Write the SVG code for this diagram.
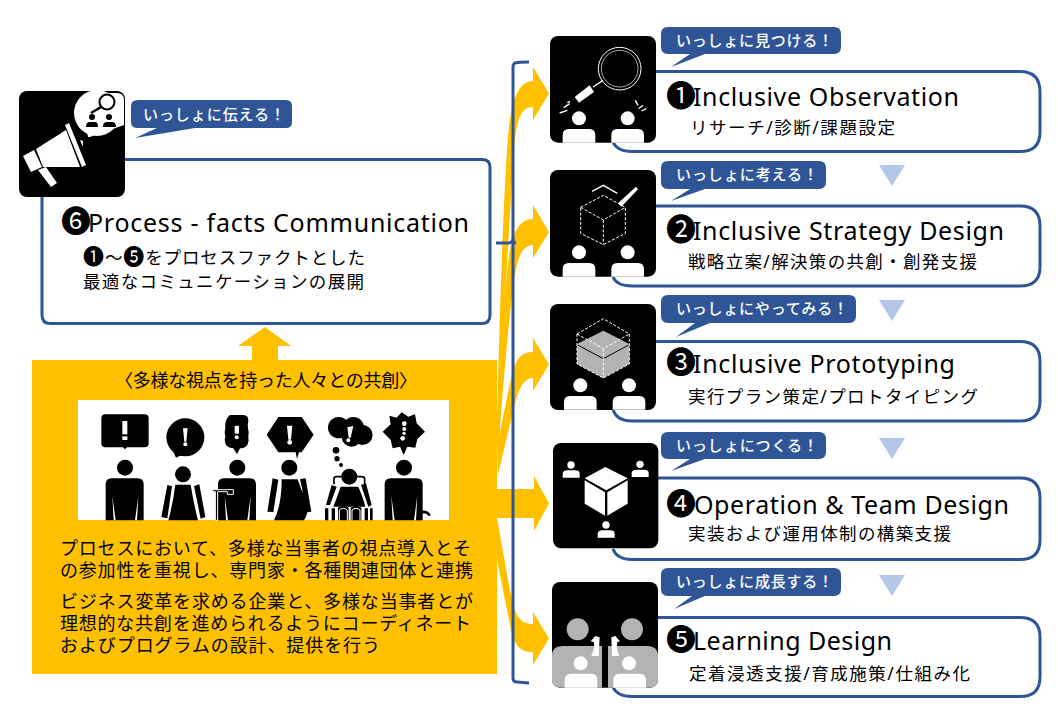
<svg xmlns="http://www.w3.org/2000/svg" xmlns:xlink="http://www.w3.org/1999/xlink" width="1058" height="720" viewBox="0 0 1058 720">
<style>
text{font-family:"Noto Sans","Noto Sans CJK JP","DejaVu Sans",sans-serif;fill:#000}
.h{font-size:25px}
.n{font-size:30px}
.s{font-size:17.500px}
.m{font-size:21px}
.b{font-size:18px}
.t{font-size:15px;fill:#fff;font-weight:500}
.box{fill:#fff;stroke:#2f5597;stroke-width:3}
.bd{fill:#2f5597}
.y{fill:#ffc000}
.tri{fill:#b4c7e7}
.w{fill:#fff}
.k{fill:#000}
.g{fill:#b3b3b3}
.d{fill:none;stroke:#fff;stroke-width:3;stroke-dasharray:9 5}
.l{fill:none;stroke:#fff;stroke-width:4}
</style>
<defs>
<g id="pair"><circle cx="87" cy="247" r="21" class="w"/><circle cx="233" cy="247" r="21" class="w"/><path class="w" d="M38 320V298Q38 279 56 279H118Q136 279 136 298V320Z M184 320V298Q184 279 202 279H264Q282 279 282 298V320Z"/></g>
<g id="man"><path class="k" d="M18 32H96Q114 32 114 50V158H0V50Q0 32 18 32Z"/><path class="w" d="M20 84L30 158H24Z M98 84L88 158H94Z"/></g>
</defs>

<g id="connectors">
<path class="y" d="M497 430C499 330 503 210 507 150C510 100 518 81 533 81V67L549 93.500L533 120V107C522 107 517 115 514 150C510 210 503 330 498 445Z"/>
<path class="y" d="M497 430C500 370 504 300 508 265C511 235 518 219 533 219V205L549 232L533 258V245C523 245 518 255 514 280C510 310 503 380 498 460Z"/>
<path class="y" d="M497 445C503 420 508 390 512 375C516 358 522 352 533 352V338L549 364.500L533 391V378C526 378 520 385 516 400C511 420 505 445 498 475Z"/>
<path class="y" d="M497 489H534V476L549 503.500L534 531V518H497Z"/>
<path class="y" d="M497 518C502 545 507 575 512 600C516 618 522 624 533 624V612L549 638.500L533 665V652C522 652 515 648 511 630C507 610 502 585 497 560Z"/>
<path class="y" d="M252 360V346H238L265 327L291 346H278V360Z"/>
<path fill="none" stroke="#2f5597" stroke-width="3" d="M529 62Q520 62 515 63Q513 64 513 67V238Q513 243 508 243H496M513 238Q513 243 516 243M513 243V678Q513 682 517 682L529 683"/>
</g>

<g id="source">
<rect x="32" y="360" width="465" height="314" class="y"/>
<rect x="78" y="400" width="371" height="120" class="w"/>
<text class="b" x="266" y="387" text-anchor="middle" textLength="302">〈多様な視点を持った人々との共創〉</text>
<g transform="translate(70 395) scale(.33333)">
 <rect x="94" y="58" width="142" height="99" rx="12" class="k"/><path class="k" d="M158 155H172L165 163Z"/>
 <rect x="157" y="78" width="15" height="40" class="w"/><rect x="157" y="124" width="15" height="11" class="w"/>
 <circle cx="165" cy="218" r="24" class="k"/><use xlink:href="#man" x="107" y="218"/>

 <circle cx="346" cy="127" r="57" class="k"/><path class="k" d="M310 170L318 188L335 180Z"/>
 <path class="w" d="M339 100H353L349 140H343Z"/><circle cx="346" cy="148" r="6" class="w"/>
 <circle cx="339" cy="238" r="24" class="k"/>
 <path class="k" d="M316 269H362Q372 330 384 376H295Q308 330 316 269Z M292 270L306 274L292 370L274 366Z M372 273L388 268L406 366L392 371Z"/>

 <path class="k" d="M480 60H522Q536 62 535 78Q532 90 534 100Q538 112 535 126Q538 140 532 150Q525 160 510 160L501 178L490 160Q470 158 466 145Q462 135 466 125Q462 110 466 100Q463 72 480 60Z"/>
 <rect x="494" y="92" width="13" height="24" rx="3" class="w"/><circle cx="500" cy="127" r="6" class="w"/>
 <circle cx="502" cy="218" r="24" class="k"/><use xlink:href="#man" x="444" y="218"/>
 <path fill="#000" stroke="#fff" stroke-width="3" d="M428 284H490V298H472V290H443V376H436V290H428Z"/>

 <path class="k" d="M625 66H695L731 119L695 172H687L681 192L677 172H625L590 119Z"/>
 <path class="w" d="M651 92H667L663 134H655Z"/><circle cx="659" cy="142" r="7" class="w"/>
 <circle cx="658" cy="218" r="24" class="k"/>
 <path class="k" d="M635 253H683Q692 285 708 310Q722 345 702 376H612Q635 330 635 253Z M608 250L625 254L610 351L592 350Z M690 252L707 250L724 350L712 352Z"/>

 <circle cx="806" cy="98" r="32" class="k"/><circle cx="850" cy="98" r="32" class="k"/><circle cx="878" cy="120" r="30" class="k"/><circle cx="845" cy="125" r="30" class="k"/>
 <path class="w" d="M832 97L850 93L842 128L836 128Z"/><circle cx="835" cy="136" r="6" class="w"/>
 <circle cx="798" cy="166" r="10" class="k"/><circle cx="801" cy="191" r="8" class="k"/><circle cx="813" cy="210" r="6" class="k"/>
 <path fill="none" stroke="#000" stroke-width="5" d="M792 268V250Q792 245 800 245H875Q884 245 884 252V272"/>
 <circle cx="838" cy="245" r="24" class="k"/>
 <path class="k" d="M812 275H865Q880 310 886 335H790Q800 310 812 275Z M785 270L800 275L780 330L768 330Z M873 270L888 265L905 330L895 335Z"/>
 <path class="k" d="M765 340H775V376H765Z M785 340H795V376H785Z M804 338Q820 328 836 338V376H804Z M842 338Q858 328 874 338V376H842Z M884 340H894V376H884Z M900 340H908V376H900Z"/>
 <path fill="none" stroke="#fff" stroke-width="3" d="M808 376V345Q820 335 832 345V376M846 376V345Q858 335 870 345V376"/>

 <path class="k" d="M958 62L980 68L995 52L1015 65L1035 58L1040 85L1065 110L1042 132L1036 158L1012 155L1001 180L990 155L968 160L962 135L938 110L962 88Z"/>
 <circle cx="1003" cy="86" r="7" class="w"/><circle cx="1003" cy="102" r="6" class="w"/><circle cx="1002" cy="115" r="5" class="w"/><circle cx="998" cy="130" r="7" class="w"/>
 <circle cx="1002" cy="218" r="24" class="k"/><use xlink:href="#man" x="944" y="218"/>
 <path fill="none" stroke="#000" stroke-width="8" d="M1045 376V362Q1055 345 1072 354Q1078 358 1078 362"/>
</g>
<text class="b" x="60" y="555" textLength="411">プロセスにおいて、多様な当事者の視点導入とそ</text>
<text class="b" x="60" y="577" textLength="413">の参加性を重視し、専門家・各種関連団体と連携</text>
<text class="b" x="60" y="608" textLength="413">ビジネス変革を求める企業と、多様な当事者とが</text>
<text class="b" x="60" y="630" textLength="411">理想的な共創を進められるようにコーディネート</text>
<text class="b" x="60" y="652" textLength="320">およびプログラムの設計、提供を行う</text>
</g>

<g id="node6">
<path class="box" d="M124 159.500H482Q490 159.500 490 167V315Q490 323.500 482 323.500H50Q42 323.500 42 315V196"/>
<rect x="19" y="91" width="106" height="106" rx="8" class="k"/>
<circle cx="97" cy="113" r="23" class="w"/><path class="w" d="M87 132L88 137L90 137L97 134Z M97 93H117Q124 93 124 100V125L110 130Z"/>
<circle cx="107" cy="102" r="7.500" fill="#fff" stroke="#000" stroke-width="2"/><path stroke="#000" stroke-width="2.500" d="M101 107L91 113"/>
<circle cx="92" cy="117" r="3" class="k"/><circle cx="109" cy="117" r="3" class="k"/><path class="k" d="M86 127Q86 122 90 122H95Q98 122 98 127Z M103 127Q103 122 107 122H112Q116 122 116 127Z"/>
<path class="w" d="M23 156L34 150L42 167L31 172Z M36 149L66 130L80 167L43 167Z M65 125L69 123L86 165L82 167Z M80 140L83 141L83 147Z M38 170L46 167L57 183L51 187Z"/>
<path class="bd" d="M138 100H286Q292 100 292 106V122Q292 128 286 128H195L135 138L157 128H138Q131 128 131 122V106Q131 100 138 100Z"/>
<text class="t" x="143" y="120" textLength="142">いっしょに伝える！</text>
<text class="h" x="61" y="232"><tspan class="n">❻</tspan><tspan x="88" textLength="381">Process - facts Communication</tspan></text>
<text class="s" x="83" y="264" textLength="282"><tspan class="m">❶</tspan>～<tspan class="m">❺</tspan>をプロセスファクトとした</text>
<text class="s" x="83" y="288" textLength="281">最適なコミュニケーションの展開</text>
</g>

<g id="node1">
<path class="box" d="M656 71.500H1020Q1040 71.500 1040 92V132Q1040 151.500 1020 151.500H632Q617 151.500 613 142"/>
<g transform="translate(550 36) scale(.33333)">
<rect width="318" height="320" rx="24" class="k"/>
<circle cx="209" cy="98" r="64" fill="none" stroke="#fff" stroke-width="3"/><circle cx="209" cy="98" r="55" fill="none" stroke="#fff" stroke-width="2"/>
<path class="l" d="M129 153L159 133"/><path class="w" d="M74 183L119 148L132 168L87 200Z"/>
<path class="l" d="M29 231L52 223M41 215L59 203M52 200L60 196M256 193L264 208M266 218L279 208M274 225L289 218"/>
<use xlink:href="#pair"/></g>
<path class="bd" d="M668 27H834Q841 27 841 34V47Q841 54 834 54H705L671 67L690 54H668Q661 54 661 47V34Q661 27 668 27Z"/>
<text class="t" x="676" y="46" textLength="157">いっしょに見つける！</text>
<text class="h" x="666" y="106"><tspan class="n">❶</tspan><tspan x="693" textLength="266">Inclusive Observation</tspan></text>
<text class="s" x="690" y="134" textLength="205">リサーチ/診断/課題設定</text>
</g>

<g id="node2">
<path class="box" d="M656 206H1020Q1040 206 1040 226V267Q1040 286 1020 286H632Q617 286 613 277"/>
<g transform="translate(550 170) scale(.33333)">
<rect width="318" height="320" rx="24" class="k"/>
<path class="l" d="M126 64L160 46L202 70"/>
<path class="w" d="M204 100L258 50L264 58L214 110Z"/>
<path class="d" d="M92 112L160 76L226 112V190L160 224L92 190ZM92 112L160 150L226 112M160 150V224"/>
<use xlink:href="#pair"/></g>
<path class="bd" d="M668 161H819Q826 161 826 168V182Q826 189 819 189H705L671 201L690 189H668Q661 189 661 182V168Q661 161 668 161Z"/>
<text class="t" x="676" y="180" textLength="142">いっしょに考える！</text>
<text class="h" x="666" y="240"><tspan class="n">❷</tspan><tspan x="693" textLength="311">Inclusive Strategy Design</tspan></text>
<text class="s" x="688" y="268" textLength="289">戦略立案/解決策の共創・創発支援</text>
</g>

<g id="node3">
<path class="box" d="M656 341.500H1020Q1040 341.500 1040 361V401Q1040 421 1020 421H632Q617 421 613 410"/>
<g transform="translate(550 304) scale(.33333)">
<rect width="318" height="318" rx="24" class="k"/>
<path class="g" d="M81 120L160 80L238 120V180L160 222L81 180Z"/>
<path fill="none" stroke="#000" stroke-width="3" d="M81 122L160 164L238 122"/>
<path class="d" d="M81 90L160 44L238 90V180L160 222L81 180ZM81 90L160 134L238 90M160 134V222"/>
<use xlink:href="#pair" transform="translate(4 -3)"/></g>
<path class="bd" d="M668 295H849Q856 295 856 302V316Q856 323 849 323H710L676 337L695 323H668Q661 323 661 316V302Q661 295 668 295Z"/>
<text class="t" x="676" y="314" textLength="172">いっしょにやってみる！</text>
<text class="h" x="666" y="373"><tspan class="n">❸</tspan><tspan x="693" textLength="262">Inclusive Prototyping</tspan></text>
<text class="s" x="688" y="403" textLength="290">実行プラン策定/プロトタイピング</text>
</g>

<g id="node4">
<path class="box" d="M658 478H1020Q1040 478 1040 498V540Q1040 559.500 1020 559.500H632Q617 559.500 613 549"/>
<g transform="translate(553 443) scale(.33333)">
<rect width="316" height="316" rx="24" class="k"/>
<path class="w" d="M157 72L224 106L160 142L95 106Z M95 112L156 148V218L95 182Z M163 148L224 112V182L163 218Z"/>
<circle cx="54" cy="66" r="11" class="w"/><path class="w" d="M29 104V92Q30 82 45 82H65Q80 82 80 92V104Z"/>
<circle cx="261" cy="64" r="11" class="w"/><path class="w" d="M236 102V90Q237 80 252 80H272Q287 80 287 90V102Z"/>
<circle cx="159" cy="246" r="11" class="w"/><path class="w" d="M134 284V272Q135 262 150 262H170Q185 262 185 272V284Z"/>
</g>
<path class="bd" d="M668 432H819Q826 432 826 439V452Q826 459 819 459H705L671 471L690 459H668Q661 459 661 452V439Q661 432 668 432Z"/>
<text class="t" x="676" y="451" textLength="142">いっしょにつくる！</text>
<text class="h" x="666" y="514"><tspan class="n">❹</tspan><tspan x="694" textLength="315">Operation &amp; Team Design</tspan></text>
<text class="s" x="688" y="540" textLength="263">実装および運用体制の構築支援</text>
</g>

<g id="node5">
<path class="box" d="M657 617.500H1020Q1040 617.500 1040 637V677Q1040 696.500 1020 696.500H632Q617 696.500 613 687"/>
<g transform="translate(552 582) scale(.33333)">
<rect width="318" height="317" rx="24" class="k"/>
<path class="g" d="M30 192H150V317H30Q0 317 0 295V222Q0 192 30 192Z M168 192H285Q318 192 318 222V295Q318 317 290 317H168Z"/>
<circle cx="77" cy="142" r="33" class="g"/><circle cx="240" cy="142" r="33" class="g"/>
<path class="w" d="M130 162L143 166L140 222L118 222Q130 195 125 180L116 178Z M190 162L204 178L196 180Q192 200 202 222L180 222L178 166Z"/>
<path class="w" d="M38 317V296Q38 275 56 275H118Q136 275 136 296V317Z M184 317V296Q184 275 202 275H264Q282 275 282 296V317Z"/>
<circle cx="86" cy="244" r="21" class="w"/><circle cx="231" cy="244" r="21" class="w"/>
</g>
<path class="bd" d="M668 568H834Q841 568 841 575V589Q841 596 834 596H705L674 609L692 596H668Q661 596 661 589V575Q661 568 668 568Z"/>
<text class="t" x="676" y="587" textLength="157">いっしょに成長する！</text>
<text class="h" x="666" y="650"><tspan class="n">❺</tspan><tspan x="693" textLength="199">Learning Design</tspan></text>
<text class="s" x="689" y="680" textLength="281">定着浸透支援/育成施策/仕組み化</text>
</g>

<path class="tri" d="M879 165H905L892 186Z"/>
<path class="tri" d="M879 300H905L892 321Z"/>
<path class="tri" d="M879 438H905L892 459Z"/>
<path class="tri" d="M879 575H905L892 596Z"/>
</svg>
